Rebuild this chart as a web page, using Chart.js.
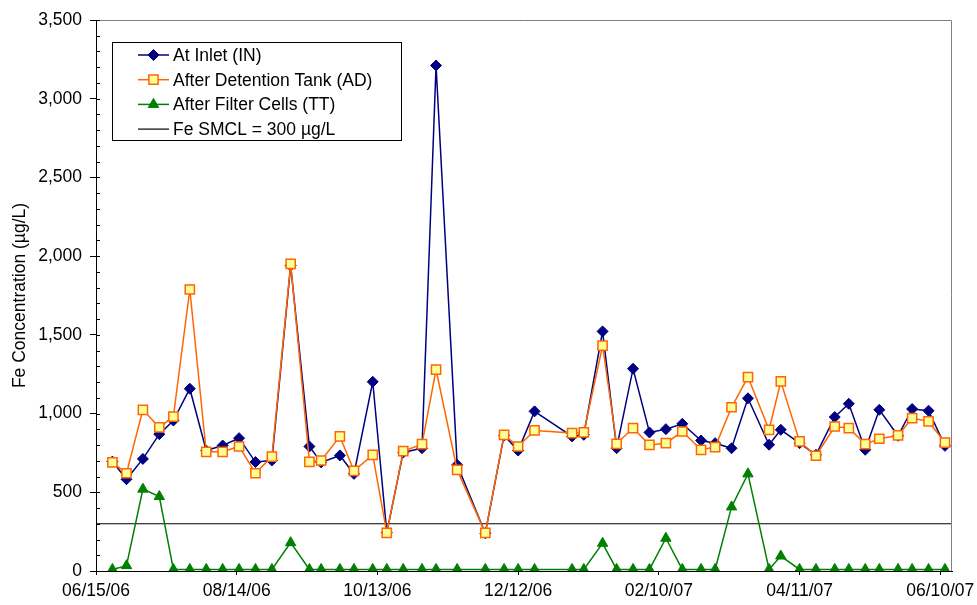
<!DOCTYPE html>
<html>
<head>
<meta charset="utf-8">
<script src="https://cdn.jsdelivr.net/npm/chart.js@4.4.1/dist/chart.umd.min.js"></script>
<style>
  html, body { margin: 0; padding: 0; background: #fff; }
  #wrap { width: 977px; height: 605px; }
</style>
</head>
<body>
<div id="wrap"><canvas id="myChart" width="977" height="605"></canvas></div>
<script>
// sample dates (mm/dd/yy)
const sampleDates = [
  '06/22/06','06/28/06','07/05/06','07/12/06','07/18/06','07/25/06','08/01/06','08/08/06','08/15/06','08/22/06',
  '08/29/06','09/06/06','09/14/06','09/19/06','09/27/06','10/03/06','10/11/06','10/17/06','10/24/06','11/01/06',
  '11/07/06','11/16/06','11/28/06','12/06/06','12/12/06','12/19/06','01/04/07','01/09/07','01/17/07','01/23/07',
  '01/30/07','02/06/07','02/13/07','02/20/07','02/28/07','03/06/07','03/13/07','03/20/07','03/29/07','04/03/07',
  '04/11/07','04/18/07','04/26/07','05/02/07','05/09/07','05/15/07','05/23/07','05/29/07','06/05/07','06/12/07'
];

// Fe concentration, ug/L
const atInlet = [
  695, 583, 712, 869, 956, 1158, 765, 797, 844, 692,
  702, 1940, 791, 690, 734, 617, 1202, 244, 753, 780,
  3211, 674, 240, 861, 765, 1014, 855, 865, 1522, 780,
  1285, 880, 901, 935, 829, 812, 780, 1097, 802, 897,
  812, 738, 978, 1062, 770, 1024, 859, 1029, 1018, 795
];
const afterDetention = [
  690, 621, 1024, 912, 981, 1788, 757, 757, 791, 621,
  727, 1951, 693, 702, 855, 636, 738, 242, 761, 806,
  1279, 642, 242, 865, 791, 893, 876, 880, 1431, 808,
  908, 801, 812, 886, 770, 787, 1040, 1232, 897, 1204,
  823, 732, 918, 908, 806, 840, 861, 971, 950, 816
];
const afterFilter = [
  10, 34, 520, 473, 10, 10, 10, 10, 10, 10,
  10, 180, 10, 10, 10, 10, 10, 10, 10, 10,
  10, 10, 10, 10, 10, 10, 10, 10, 176, 10,
  10, 10, 208, 10, 10, 10, 407, 617, 10, 95,
  10, 10, 10, 10, 10, 10, 10, 10, 10, 10
];
const smcl = 300;

// x axis: days from 06/15/06, tick every 60 days
const axisStart = '06/15/06';
const axisDays = 365;
const tickDays = [0, 60, 120, 180, 240, 300, 360];
const yTicks = [0, 500, 1000, 1500, 2000, 2500, 3000, 3500];

function toUTC(s) {
  const p = s.split('/');
  return Date.UTC(2000 + Number(p[2]), Number(p[0]) - 1, Number(p[1]));
}
const t0 = toUTC(axisStart);
function dayOf(s) { return Math.round((toUTC(s) - t0) / 86400000); }
function dayLabel(d) {
  const dt = new Date(t0 + d * 86400000);
  const mm = String(dt.getUTCMonth() + 1).padStart(2, '0');
  const dd = String(dt.getUTCDate()).padStart(2, '0');
  const yy = String(dt.getUTCFullYear() % 100).padStart(2, '0');
  return mm + '/' + dd + '/' + yy;
}
const xs = sampleDates.map(dayOf);
function pts(vals) { return vals.map((v, i) => ({ x: xs[i], y: v })); }

const FONT = 'Arial, "Liberation Sans", sans-serif';
const FSIZE = 17.5;

// legend inside the plot + frame + minor ticks
const extras = {
  id: 'extras',
  afterDraw(chart) {
    const ctx = chart.ctx;
    const a = chart.chartArea;
    const y = chart.scales.y;
    ctx.save();
    // gray frame top/right
    ctx.strokeStyle = '#808080';
    ctx.lineWidth = 1;
    ctx.beginPath();
    ctx.moveTo(a.left, a.top + 0.5);
    ctx.lineTo(a.right - 0.5, a.top + 0.5);
    ctx.lineTo(a.right - 0.5, a.bottom);
    ctx.stroke();
    // minor ticks every 100
    ctx.strokeStyle = '#000';
    ctx.beginPath();
    for (let v = 0; v <= 3500; v += 100) {
      const py = Math.round(y.getPixelForValue(v)) + 0.5;
      ctx.moveTo(a.left, py);
      ctx.lineTo(a.left + 4, py);
    }
    ctx.stroke();

    // legend box
    const bx = 112, by = 42, bw = 289, bh = 98;
    ctx.fillStyle = '#fff';
    ctx.fillRect(bx, by, bw, bh);
    ctx.strokeStyle = '#000';
    ctx.strokeRect(bx + 0.5, by + 0.5, bw, bh);
    ctx.font = FSIZE + 'px ' + FONT;
    ctx.textBaseline = 'middle';
    ctx.textAlign = 'left';
    chart.data.datasets.forEach((ds, i) => {
      const ry = 55 + i * 24.7;
      ctx.strokeStyle = ds.borderColor;
      ctx.lineWidth = ds.borderWidth;
      ctx.beginPath();
      ctx.moveTo(138, ry);
      ctx.lineTo(169, ry);
      ctx.stroke();
      if (ds.pointRadius > 0) {
        ctx.fillStyle = ds.pointBackgroundColor;
        ctx.strokeStyle = ds.pointBorderColor;
        ctx.lineWidth = ds.pointBorderWidth;
        Chart.helpers.drawPoint(ctx, {
          pointStyle: ds.pointStyle, radius: ds.pointRadius, borderWidth: ds.pointBorderWidth, rotation: 0
        }, 153.5, ry);
      }
      ctx.fillStyle = '#000';
      ctx.fillText(ds.label, 173, ry + 1);
    });
    ctx.restore();
  }
};

const config = {
  type: 'line',
  data: {
    datasets: [{
      label: 'At Inlet (IN)',
      data: pts(atInlet),
      order: 3,
      borderColor: '#000080',
      borderWidth: 1.5,
      pointStyle: 'rectRot',
      pointRadius: 5.5,
      pointBackgroundColor: '#000080',
      pointBorderColor: '#000080',
      pointBorderWidth: 1
    }, {
      label: 'After Detention Tank (AD)',
      data: pts(afterDetention),
      order: 2,
      borderColor: '#FF6600',
      borderWidth: 1.5,
      pointStyle: 'rect',
      pointRadius: 6.5,
      pointBackgroundColor: '#FFFF99',
      pointBorderColor: '#FF6600',
      pointBorderWidth: 1.5
    }, {
      label: 'After Filter Cells (TT)',
      data: pts(afterFilter),
      order: 1,
      borderColor: '#008000',
      borderWidth: 1.5,
      pointStyle: 'triangle',
      pointRadius: 6,
      pointBackgroundColor: '#008000',
      pointBorderColor: '#008000',
      pointBorderWidth: 1
    }, {
      label: 'Fe SMCL = 300 \u00b5g/L',
      data: [{ x: 0, y: smcl }, { x: axisDays, y: smcl }],
      order: 4,
      borderColor: '#000',
      borderWidth: 1.2,
      pointRadius: 0
    }]
  },
  options: {
    responsive: false,
    animation: false,
    layout: { padding: { top: 20, right: 25, left: 0, bottom: 0 } },
    plugins: { legend: { display: false }, tooltip: { enabled: false } },
    elements: { line: { tension: 0 } },
    scales: {
      x: {
        type: 'linear',
        min: 0,
        max: axisDays,
        afterBuildTicks: (s) => { s.ticks = tickDays.map(v => ({ value: v })); },
        afterFit: (s) => { s.height = 34; s.paddingLeft = 0; s.paddingRight = 0; },
        border: { color: '#000', width: 1 },
        grid: { drawOnChartArea: false, tickLength: 4, color: '#000' },
        ticks: {
          autoSkip: false, maxRotation: 0, padding: 6,
          color: '#000', font: { family: FONT, size: FSIZE },
          callback: (v) => dayLabel(v)
        }
      },
      y: {
        min: 0,
        max: 3500,
        afterBuildTicks: (s) => { s.ticks = yTicks.map(v => ({ value: v })); },
        afterFit: (s) => { s.width = 96; s.paddingTop = 0; s.paddingBottom = 0; },
        border: { color: '#000', width: 1 },
        grid: { drawOnChartArea: false, tickLength: 6, color: '#000' },
        ticks: {
          padding: 8, color: '#000', font: { family: FONT, size: FSIZE },
          callback: (v) => v.toLocaleString('en-US')
        },
        title: {
          display: true, text: 'Fe Concentration (\u00b5g/L)', color: '#000',
          font: { family: FONT, size: FSIZE }, padding: { top: 10, bottom: 0 }
        }
      }
    }
  },
  plugins: [extras]
};

var myChart = new Chart(document.getElementById('myChart'), config);
</script>
</body>
</html>
